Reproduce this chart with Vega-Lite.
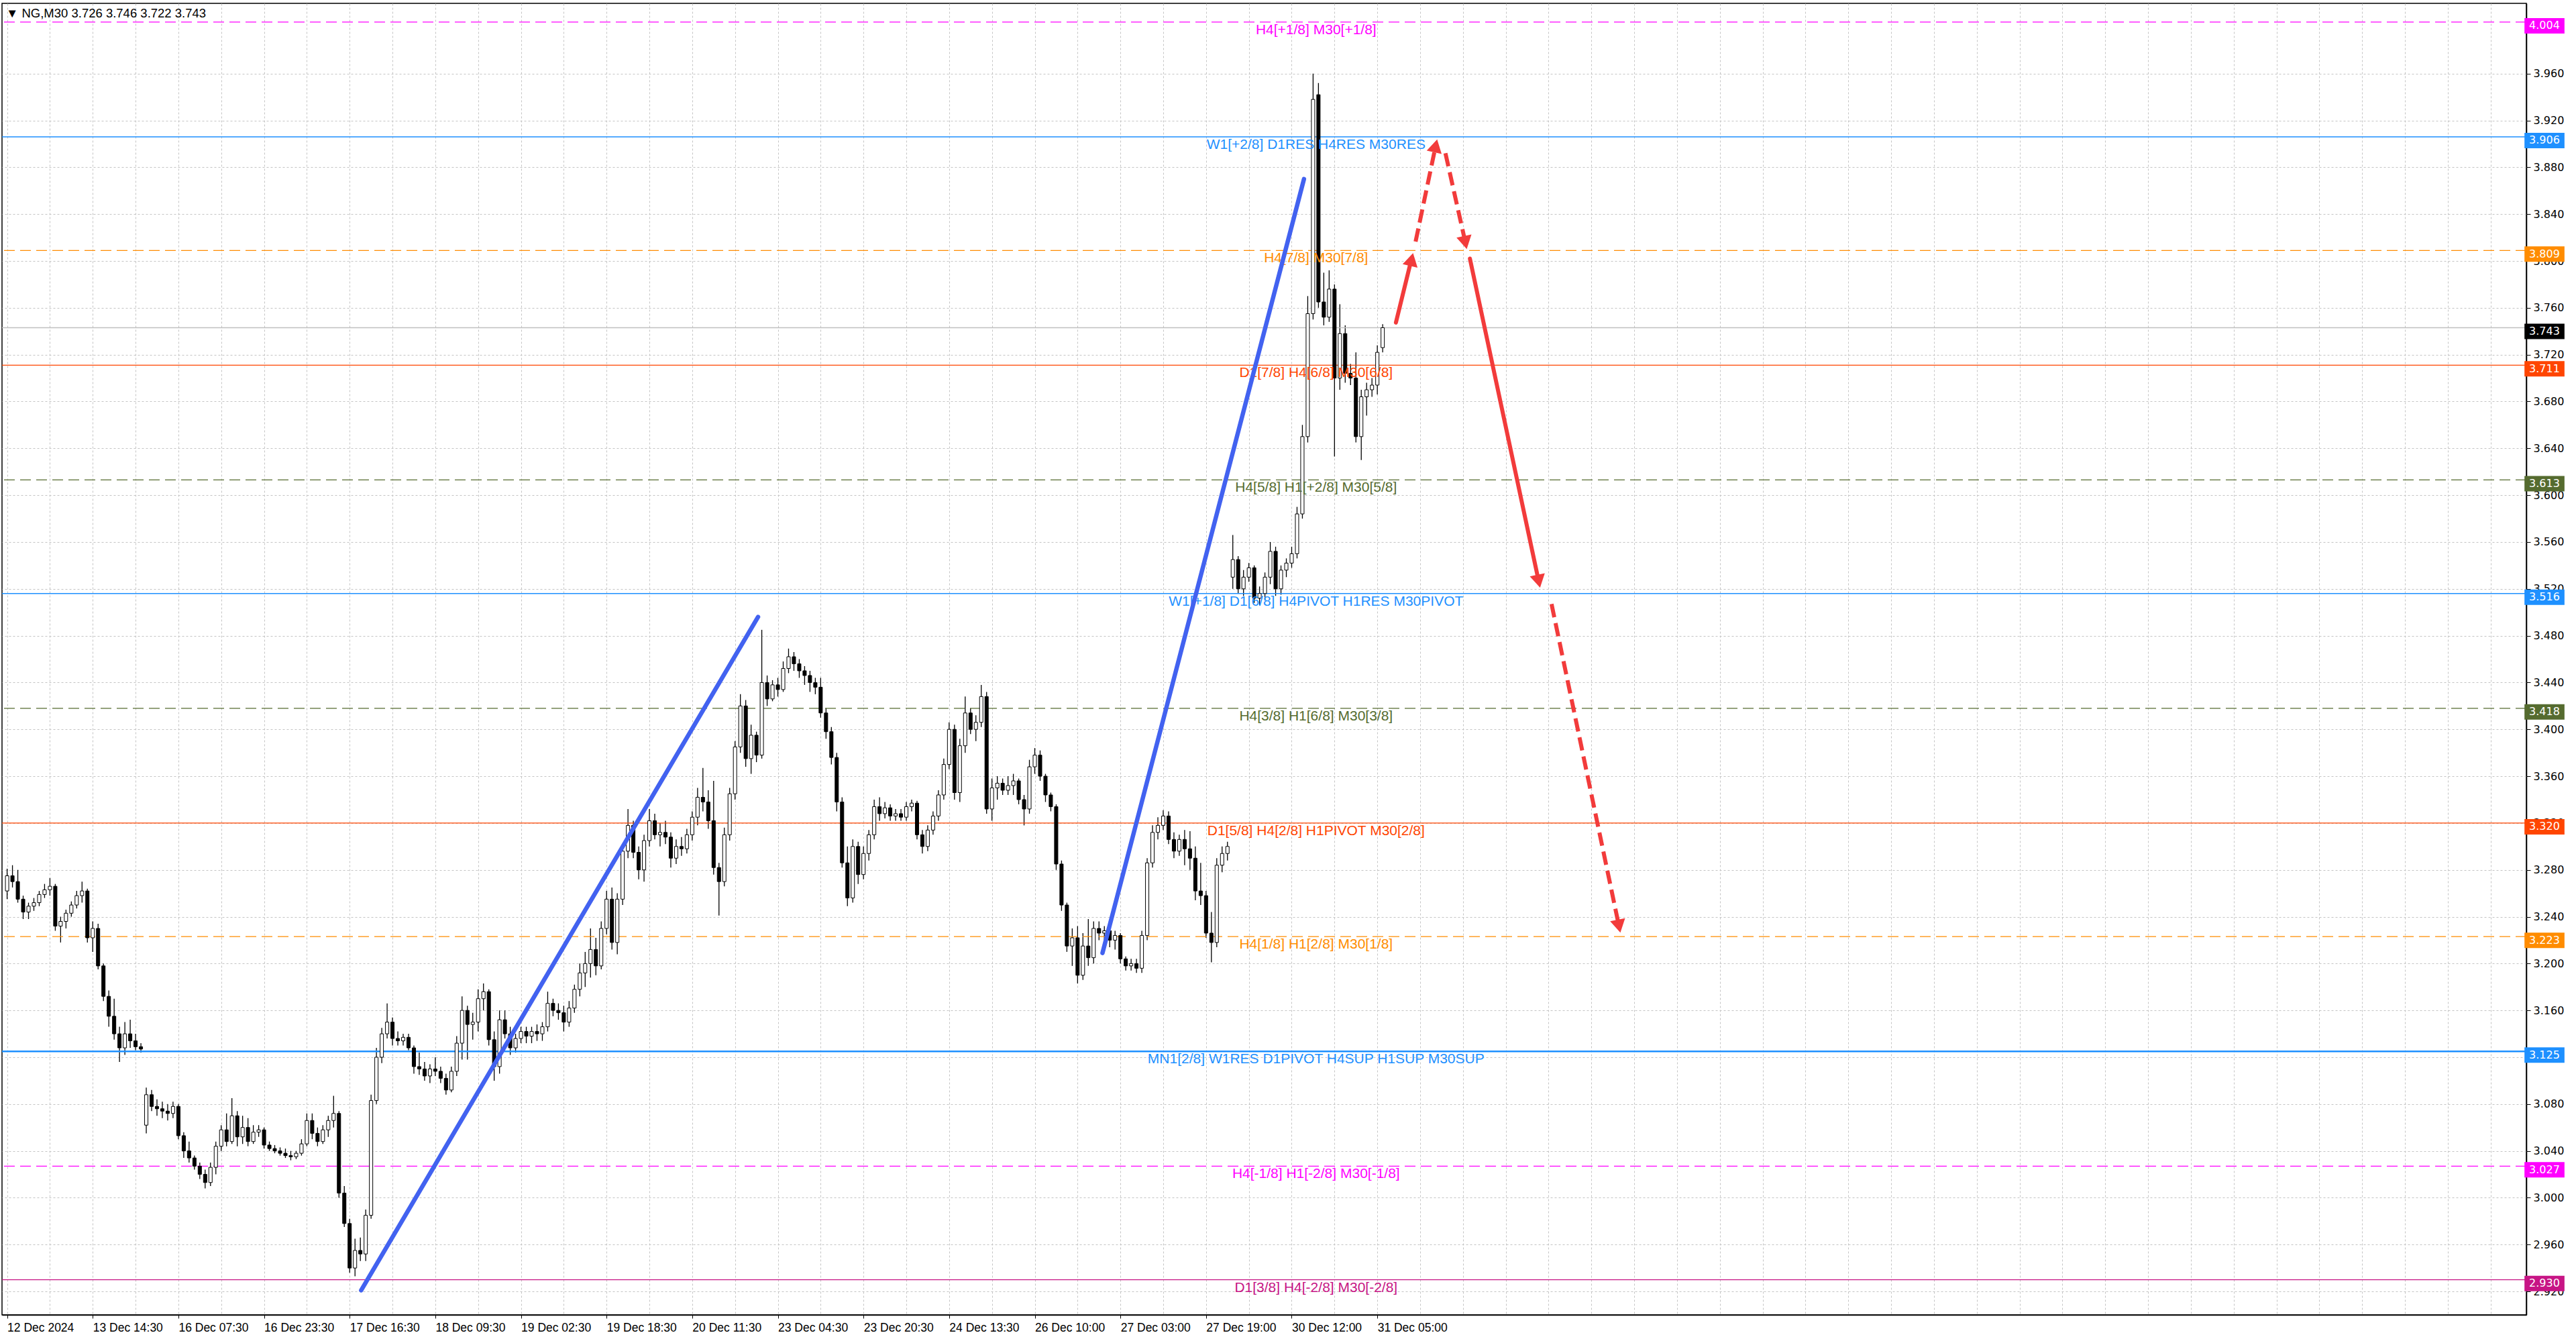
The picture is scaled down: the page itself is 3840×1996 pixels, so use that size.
{
"$schema": "https://vega.github.io/schema/vega-lite/v6.json",
"width": 3763, "height": 1955,
"autosize": "none",
"padding": {"left": 3, "top": 5, "right": 74, "bottom": 36},
"background": "white",
"config": {
  "view": {"stroke": "#000", "strokeWidth": 1.5},
  "axis": {"domainColor": "#000", "tickColor": "#000", "labelColor": "#000", "gridColor": "#c4c4c4", "gridDash": [3, 3], "gridWidth": 1, "title": null}
},
"title": {"text": "▼  NG,M30  3.726 3.746 3.722 3.743", "anchor": "start", "frame": "group", "orient": "top", "offset": -24, "dx": 6, "font": "Liberation Sans", "fontSize": 18.5, "fontWeight": "normal", "color": "#000"},
"datasets": {
"candles": [
{"i":0,"o":3.262,"h":3.281,"l":3.255,"c":3.275},{"i":2,"o":3.275,"h":3.284,"l":3.265,"c":3.270},{"i":4,"o":3.270,"h":3.280,"l":3.252,"c":3.255},{"i":6,"o":3.255,"h":3.258,"l":3.238,"c":3.244},
{"i":8,"o":3.244,"h":3.252,"l":3.238,"c":3.249},{"i":10,"o":3.249,"h":3.256,"l":3.245,"c":3.252},{"i":12,"o":3.252,"h":3.262,"l":3.249,"c":3.259},{"i":14,"o":3.259,"h":3.268,"l":3.256,"c":3.263},
{"i":16,"o":3.263,"h":3.273,"l":3.258,"c":3.266},{"i":18,"o":3.266,"h":3.268,"l":3.228,"c":3.232},{"i":20,"o":3.232,"h":3.240,"l":3.218,"c":3.236},{"i":22,"o":3.236,"h":3.246,"l":3.230,"c":3.243},
{"i":24,"o":3.243,"h":3.253,"l":3.240,"c":3.250},{"i":26,"o":3.250,"h":3.262,"l":3.247,"c":3.258},{"i":28,"o":3.258,"h":3.270,"l":3.252,"c":3.262},{"i":30,"o":3.262,"h":3.264,"l":3.218,"c":3.222},
{"i":32,"o":3.222,"h":3.236,"l":3.210,"c":3.230},{"i":34,"o":3.230,"h":3.234,"l":3.195,"c":3.198},{"i":36,"o":3.198,"h":3.200,"l":3.168,"c":3.172},{"i":38,"o":3.172,"h":3.177,"l":3.146,"c":3.155},
{"i":40,"o":3.155,"h":3.170,"l":3.135,"c":3.140},{"i":42,"o":3.140,"h":3.146,"l":3.116,"c":3.128},{"i":44,"o":3.128,"h":3.150,"l":3.122,"c":3.140},{"i":46,"o":3.140,"h":3.152,"l":3.128,"c":3.134},
{"i":48,"o":3.134,"h":3.140,"l":3.126,"c":3.129},{"i":50,"o":3.129,"h":3.132,"l":3.124,"c":3.127},{"i":52,"o":3.062,"h":3.094,"l":3.055,"c":3.088},{"i":54,"o":3.088,"h":3.092,"l":3.074,"c":3.078},
{"i":56,"o":3.078,"h":3.084,"l":3.070,"c":3.076},{"i":58,"o":3.076,"h":3.082,"l":3.068,"c":3.074},{"i":60,"o":3.074,"h":3.080,"l":3.066,"c":3.072},{"i":62,"o":3.072,"h":3.082,"l":3.068,"c":3.078},
{"i":64,"o":3.078,"h":3.080,"l":3.050,"c":3.053},{"i":66,"o":3.053,"h":3.056,"l":3.034,"c":3.040},{"i":68,"o":3.040,"h":3.048,"l":3.030,"c":3.034},{"i":70,"o":3.034,"h":3.036,"l":3.024,"c":3.027},
{"i":72,"o":3.027,"h":3.030,"l":3.016,"c":3.020},{"i":74,"o":3.020,"h":3.024,"l":3.008,"c":3.013},{"i":76,"o":3.013,"h":3.030,"l":3.010,"c":3.026},{"i":78,"o":3.026,"h":3.048,"l":3.020,"c":3.044},
{"i":80,"o":3.044,"h":3.062,"l":3.040,"c":3.058},{"i":82,"o":3.058,"h":3.072,"l":3.044,"c":3.048},{"i":84,"o":3.048,"h":3.085,"l":3.046,"c":3.070},{"i":86,"o":3.070,"h":3.074,"l":3.044,"c":3.052},
{"i":88,"o":3.052,"h":3.070,"l":3.046,"c":3.060},{"i":90,"o":3.060,"h":3.068,"l":3.044,"c":3.048},{"i":92,"o":3.048,"h":3.062,"l":3.046,"c":3.056},{"i":94,"o":3.056,"h":3.062,"l":3.052,"c":3.058},
{"i":96,"o":3.058,"h":3.060,"l":3.042,"c":3.045},{"i":98,"o":3.045,"h":3.048,"l":3.040,"c":3.042},{"i":100,"o":3.042,"h":3.045,"l":3.038,"c":3.040},{"i":102,"o":3.040,"h":3.043,"l":3.036,"c":3.038},
{"i":104,"o":3.038,"h":3.042,"l":3.034,"c":3.036},{"i":106,"o":3.036,"h":3.040,"l":3.032,"c":3.035},{"i":108,"o":3.035,"h":3.040,"l":3.033,"c":3.038},{"i":110,"o":3.038,"h":3.050,"l":3.036,"c":3.046},
{"i":112,"o":3.046,"h":3.072,"l":3.044,"c":3.066},{"i":114,"o":3.066,"h":3.072,"l":3.050,"c":3.055},{"i":116,"o":3.055,"h":3.060,"l":3.044,"c":3.048},{"i":118,"o":3.048,"h":3.062,"l":3.046,"c":3.058},
{"i":120,"o":3.058,"h":3.070,"l":3.052,"c":3.066},{"i":122,"o":3.066,"h":3.087,"l":3.060,"c":3.072},{"i":124,"o":3.072,"h":3.074,"l":3.000,"c":3.004},{"i":126,"o":3.004,"h":3.010,"l":2.975,"c":2.978},
{"i":128,"o":2.978,"h":2.982,"l":2.936,"c":2.940},{"i":130,"o":2.940,"h":2.965,"l":2.933,"c":2.955},{"i":132,"o":2.955,"h":2.966,"l":2.946,"c":2.952},{"i":134,"o":2.952,"h":2.990,"l":2.946,"c":2.985},
{"i":136,"o":2.985,"h":3.088,"l":2.982,"c":3.083},{"i":138,"o":3.083,"h":3.128,"l":3.080,"c":3.120},{"i":140,"o":3.120,"h":3.145,"l":3.115,"c":3.140},{"i":142,"o":3.140,"h":3.166,"l":3.136,"c":3.150},
{"i":144,"o":3.150,"h":3.154,"l":3.130,"c":3.136},{"i":146,"o":3.136,"h":3.142,"l":3.130,"c":3.134},{"i":148,"o":3.134,"h":3.140,"l":3.130,"c":3.137},{"i":150,"o":3.137,"h":3.140,"l":3.126,"c":3.128},
{"i":152,"o":3.128,"h":3.130,"l":3.106,"c":3.112},{"i":154,"o":3.112,"h":3.124,"l":3.105,"c":3.110},{"i":156,"o":3.110,"h":3.116,"l":3.100,"c":3.104},{"i":158,"o":3.104,"h":3.114,"l":3.098,"c":3.110},
{"i":160,"o":3.110,"h":3.120,"l":3.104,"c":3.108},{"i":162,"o":3.108,"h":3.112,"l":3.098,"c":3.102},{"i":164,"o":3.102,"h":3.106,"l":3.088,"c":3.092},{"i":166,"o":3.092,"h":3.112,"l":3.090,"c":3.108},
{"i":168,"o":3.108,"h":3.138,"l":3.104,"c":3.132},{"i":170,"o":3.132,"h":3.172,"l":3.118,"c":3.160},{"i":172,"o":3.160,"h":3.164,"l":3.118,"c":3.148},{"i":174,"o":3.148,"h":3.158,"l":3.135,"c":3.150},
{"i":176,"o":3.150,"h":3.178,"l":3.142,"c":3.170},{"i":178,"o":3.170,"h":3.183,"l":3.160,"c":3.176},{"i":180,"o":3.176,"h":3.178,"l":3.130,"c":3.135},{"i":182,"o":3.135,"h":3.142,"l":3.100,"c":3.112},
{"i":184,"o":3.112,"h":3.160,"l":3.106,"c":3.152},{"i":186,"o":3.152,"h":3.160,"l":3.136,"c":3.140},{"i":188,"o":3.140,"h":3.146,"l":3.122,"c":3.128},{"i":190,"o":3.128,"h":3.140,"l":3.124,"c":3.136},
{"i":192,"o":3.136,"h":3.146,"l":3.132,"c":3.142},{"i":194,"o":3.142,"h":3.146,"l":3.132,"c":3.138},{"i":196,"o":3.138,"h":3.146,"l":3.132,"c":3.142},{"i":198,"o":3.142,"h":3.148,"l":3.134,"c":3.140},
{"i":200,"o":3.140,"h":3.150,"l":3.134,"c":3.146},{"i":202,"o":3.146,"h":3.176,"l":3.142,"c":3.166},{"i":204,"o":3.166,"h":3.170,"l":3.155,"c":3.160},{"i":206,"o":3.160,"h":3.166,"l":3.152,"c":3.158},
{"i":208,"o":3.158,"h":3.164,"l":3.142,"c":3.150},{"i":210,"o":3.150,"h":3.168,"l":3.146,"c":3.162},{"i":212,"o":3.162,"h":3.182,"l":3.158,"c":3.178},{"i":214,"o":3.178,"h":3.200,"l":3.172,"c":3.192},
{"i":216,"o":3.192,"h":3.210,"l":3.180,"c":3.200},{"i":218,"o":3.200,"h":3.230,"l":3.188,"c":3.212},{"i":220,"o":3.212,"h":3.222,"l":3.190,"c":3.198},{"i":222,"o":3.198,"h":3.236,"l":3.195,"c":3.230},
{"i":224,"o":3.230,"h":3.262,"l":3.225,"c":3.255},{"i":226,"o":3.255,"h":3.265,"l":3.212,"c":3.218},{"i":228,"o":3.218,"h":3.260,"l":3.208,"c":3.255},{"i":230,"o":3.255,"h":3.300,"l":3.250,"c":3.296},
{"i":232,"o":3.296,"h":3.332,"l":3.290,"c":3.318},{"i":234,"o":3.318,"h":3.322,"l":3.290,"c":3.295},{"i":236,"o":3.295,"h":3.300,"l":3.272,"c":3.280},{"i":238,"o":3.280,"h":3.310,"l":3.270,"c":3.305},
{"i":240,"o":3.305,"h":3.332,"l":3.300,"c":3.322},{"i":242,"o":3.322,"h":3.328,"l":3.306,"c":3.310},{"i":244,"o":3.310,"h":3.320,"l":3.300,"c":3.312},{"i":246,"o":3.312,"h":3.322,"l":3.302,"c":3.308},
{"i":248,"o":3.308,"h":3.312,"l":3.282,"c":3.290},{"i":250,"o":3.290,"h":3.306,"l":3.285,"c":3.300},{"i":252,"o":3.300,"h":3.308,"l":3.292,"c":3.298},{"i":254,"o":3.298,"h":3.315,"l":3.294,"c":3.310},
{"i":256,"o":3.310,"h":3.330,"l":3.305,"c":3.325},{"i":258,"o":3.325,"h":3.350,"l":3.318,"c":3.342},{"i":260,"o":3.342,"h":3.367,"l":3.330,"c":3.338},{"i":262,"o":3.338,"h":3.348,"l":3.315,"c":3.322},
{"i":264,"o":3.322,"h":3.356,"l":3.276,"c":3.282},{"i":266,"o":3.282,"h":3.286,"l":3.241,"c":3.270},{"i":268,"o":3.270,"h":3.316,"l":3.266,"c":3.310},{"i":270,"o":3.310,"h":3.350,"l":3.305,"c":3.345},
{"i":272,"o":3.345,"h":3.390,"l":3.340,"c":3.385},{"i":274,"o":3.385,"h":3.430,"l":3.380,"c":3.420},{"i":276,"o":3.420,"h":3.425,"l":3.368,"c":3.375},{"i":278,"o":3.375,"h":3.404,"l":3.362,"c":3.395},
{"i":280,"o":3.395,"h":3.398,"l":3.372,"c":3.378},{"i":282,"o":3.378,"h":3.485,"l":3.375,"c":3.440},{"i":284,"o":3.440,"h":3.446,"l":3.420,"c":3.426},{"i":286,"o":3.426,"h":3.442,"l":3.424,"c":3.438},
{"i":288,"o":3.438,"h":3.444,"l":3.428,"c":3.434},{"i":290,"o":3.434,"h":3.458,"l":3.432,"c":3.452},{"i":292,"o":3.452,"h":3.469,"l":3.448,"c":3.462},{"i":294,"o":3.462,"h":3.466,"l":3.450,"c":3.456},
{"i":296,"o":3.456,"h":3.460,"l":3.444,"c":3.450},{"i":298,"o":3.450,"h":3.454,"l":3.438,"c":3.446},{"i":300,"o":3.446,"h":3.450,"l":3.432,"c":3.440},{"i":302,"o":3.440,"h":3.444,"l":3.430,"c":3.436},
{"i":304,"o":3.436,"h":3.444,"l":3.410,"c":3.414},{"i":306,"o":3.414,"h":3.418,"l":3.392,"c":3.398},{"i":308,"o":3.398,"h":3.402,"l":3.370,"c":3.376},{"i":310,"o":3.376,"h":3.380,"l":3.330,"c":3.338},
{"i":312,"o":3.338,"h":3.342,"l":3.282,"c":3.286},{"i":314,"o":3.286,"h":3.300,"l":3.249,"c":3.256},{"i":316,"o":3.256,"h":3.306,"l":3.252,"c":3.300},{"i":318,"o":3.300,"h":3.304,"l":3.268,"c":3.276},
{"i":320,"o":3.276,"h":3.300,"l":3.272,"c":3.294},{"i":322,"o":3.294,"h":3.314,"l":3.288,"c":3.310},{"i":324,"o":3.310,"h":3.340,"l":3.306,"c":3.334},{"i":326,"o":3.334,"h":3.342,"l":3.322,"c":3.328},
{"i":328,"o":3.328,"h":3.338,"l":3.324,"c":3.333},{"i":330,"o":3.333,"h":3.336,"l":3.322,"c":3.326},{"i":332,"o":3.326,"h":3.332,"l":3.322,"c":3.328},{"i":334,"o":3.328,"h":3.332,"l":3.322,"c":3.325},
{"i":336,"o":3.325,"h":3.338,"l":3.322,"c":3.334},{"i":338,"o":3.334,"h":3.340,"l":3.330,"c":3.337},{"i":340,"o":3.337,"h":3.339,"l":3.306,"c":3.310},{"i":342,"o":3.310,"h":3.314,"l":3.294,"c":3.300},
{"i":344,"o":3.300,"h":3.318,"l":3.296,"c":3.314},{"i":346,"o":3.314,"h":3.330,"l":3.310,"c":3.326},{"i":348,"o":3.326,"h":3.348,"l":3.322,"c":3.344},{"i":350,"o":3.344,"h":3.375,"l":3.340,"c":3.370},
{"i":352,"o":3.370,"h":3.406,"l":3.366,"c":3.400},{"i":354,"o":3.400,"h":3.404,"l":3.340,"c":3.346},{"i":356,"o":3.346,"h":3.392,"l":3.338,"c":3.386},{"i":358,"o":3.386,"h":3.428,"l":3.380,"c":3.414},
{"i":360,"o":3.414,"h":3.418,"l":3.396,"c":3.400},{"i":362,"o":3.400,"h":3.412,"l":3.390,"c":3.406},{"i":364,"o":3.406,"h":3.438,"l":3.402,"c":3.428},{"i":366,"o":3.428,"h":3.432,"l":3.328,"c":3.332},
{"i":368,"o":3.332,"h":3.358,"l":3.322,"c":3.350},{"i":370,"o":3.350,"h":3.360,"l":3.340,"c":3.354},{"i":372,"o":3.354,"h":3.358,"l":3.344,"c":3.348},{"i":374,"o":3.348,"h":3.360,"l":3.344,"c":3.352},
{"i":376,"o":3.352,"h":3.362,"l":3.344,"c":3.356},{"i":378,"o":3.356,"h":3.358,"l":3.336,"c":3.340},{"i":380,"o":3.340,"h":3.344,"l":3.318,"c":3.332},{"i":382,"o":3.332,"h":3.374,"l":3.328,"c":3.368},
{"i":384,"o":3.368,"h":3.384,"l":3.362,"c":3.378},{"i":386,"o":3.378,"h":3.382,"l":3.356,"c":3.360},{"i":388,"o":3.360,"h":3.362,"l":3.338,"c":3.344},{"i":390,"o":3.344,"h":3.346,"l":3.330,"c":3.334},
{"i":392,"o":3.334,"h":3.336,"l":3.280,"c":3.285},{"i":394,"o":3.285,"h":3.288,"l":3.245,"c":3.250},{"i":396,"o":3.250,"h":3.252,"l":3.210,"c":3.215},{"i":398,"o":3.215,"h":3.230,"l":3.198,"c":3.222},
{"i":400,"o":3.222,"h":3.232,"l":3.183,"c":3.190},{"i":402,"o":3.190,"h":3.226,"l":3.186,"c":3.215},{"i":404,"o":3.215,"h":3.238,"l":3.198,"c":3.205},{"i":406,"o":3.205,"h":3.236,"l":3.200,"c":3.230},
{"i":408,"o":3.230,"h":3.236,"l":3.220,"c":3.226},{"i":410,"o":3.226,"h":3.232,"l":3.220,"c":3.228},{"i":412,"o":3.228,"h":3.230,"l":3.214,"c":3.220},{"i":414,"o":3.220,"h":3.228,"l":3.212,"c":3.224},
{"i":416,"o":3.224,"h":3.226,"l":3.200,"c":3.204},{"i":418,"o":3.204,"h":3.206,"l":3.194,"c":3.198},{"i":420,"o":3.198,"h":3.204,"l":3.194,"c":3.200},{"i":422,"o":3.200,"h":3.204,"l":3.192,"c":3.196},
{"i":424,"o":3.196,"h":3.228,"l":3.192,"c":3.224},{"i":426,"o":3.224,"h":3.290,"l":3.220,"c":3.286},{"i":428,"o":3.286,"h":3.318,"l":3.282,"c":3.312},{"i":430,"o":3.312,"h":3.325,"l":3.306,"c":3.318},
{"i":432,"o":3.318,"h":3.331,"l":3.314,"c":3.326},{"i":434,"o":3.326,"h":3.330,"l":3.302,"c":3.306},{"i":436,"o":3.306,"h":3.312,"l":3.290,"c":3.296},{"i":438,"o":3.296,"h":3.310,"l":3.292,"c":3.306},
{"i":440,"o":3.306,"h":3.314,"l":3.284,"c":3.298},{"i":442,"o":3.298,"h":3.313,"l":3.280,"c":3.290},{"i":444,"o":3.290,"h":3.300,"l":3.254,"c":3.262},{"i":446,"o":3.262,"h":3.286,"l":3.250,"c":3.258},
{"i":448,"o":3.258,"h":3.262,"l":3.222,"c":3.226},{"i":450,"o":3.226,"h":3.244,"l":3.201,"c":3.218},{"i":452,"o":3.218,"h":3.290,"l":3.214,"c":3.284},{"i":454,"o":3.284,"h":3.300,"l":3.278,"c":3.294},
{"i":456,"o":3.294,"h":3.304,"l":3.288,"c":3.300},{"i":458,"o":3.530,"h":3.566,"l":3.520,"c":3.545},{"i":460,"o":3.545,"h":3.548,"l":3.516,"c":3.520},{"i":462,"o":3.520,"h":3.536,"l":3.514,"c":3.530},
{"i":464,"o":3.530,"h":3.542,"l":3.526,"c":3.538},{"i":466,"o":3.538,"h":3.540,"l":3.508,"c":3.512},{"i":468,"o":3.512,"h":3.522,"l":3.506,"c":3.516},{"i":470,"o":3.516,"h":3.534,"l":3.510,"c":3.530},
{"i":472,"o":3.530,"h":3.560,"l":3.524,"c":3.552},{"i":474,"o":3.552,"h":3.556,"l":3.514,"c":3.520},{"i":476,"o":3.520,"h":3.540,"l":3.515,"c":3.536},{"i":478,"o":3.536,"h":3.546,"l":3.530,"c":3.542},
{"i":480,"o":3.542,"h":3.556,"l":3.538,"c":3.550},{"i":482,"o":3.550,"h":3.590,"l":3.546,"c":3.584},{"i":484,"o":3.584,"h":3.660,"l":3.580,"c":3.650},{"i":486,"o":3.650,"h":3.770,"l":3.645,"c":3.755},
{"i":488,"o":3.755,"h":3.960,"l":3.750,"c":3.938},{"i":490,"o":3.942,"h":3.952,"l":3.760,"c":3.765},{"i":492,"o":3.765,"h":3.790,"l":3.745,"c":3.752},{"i":494,"o":3.752,"h":3.792,"l":3.748,"c":3.776},
{"i":496,"o":3.776,"h":3.780,"l":3.633,"c":3.700},{"i":498,"o":3.700,"h":3.763,"l":3.690,"c":3.738},{"i":500,"o":3.738,"h":3.745,"l":3.696,"c":3.704},{"i":502,"o":3.704,"h":3.712,"l":3.694,"c":3.700},
{"i":504,"o":3.700,"h":3.722,"l":3.645,"c":3.650},{"i":506,"o":3.650,"h":3.690,"l":3.630,"c":3.684},{"i":508,"o":3.684,"h":3.696,"l":3.668,"c":3.690},{"i":510,"o":3.690,"h":3.700,"l":3.684,"c":3.694},
{"i":512,"o":3.694,"h":3.728,"l":3.686,"c":3.722},{"i":514,"o":3.726,"h":3.746,"l":3.722,"c":3.743}
],
"levels": [
{"p":4.004,"label":"H4[+1/8] M30[+1/8]","line":"dashed"},
{"p":3.906,"label":"W1[+2/8] D1RES H4RES M30RES","line":"solid"},
{"p":3.809,"label":"H4[7/8] M30[7/8]","line":"dashed"},
{"p":3.711,"label":"D1[7/8] H4[6/8] M30[6/8]","line":"solid"},
{"p":3.613,"label":"H4[5/8] H1[+2/8] M30[5/8]","line":"dashed"},
{"p":3.516,"label":"W1[+1/8] D1[6/8] H4PIVOT H1RES M30PIVOT","line":"solid"},
{"p":3.418,"label":"H4[3/8] H1[6/8] M30[3/8]","line":"dashed"},
{"p":3.320,"label":"D1[5/8] H4[2/8] H1PIVOT M30[2/8]","line":"solid"},
{"p":3.223,"label":"H4[1/8] H1[2/8] M30[1/8]","line":"dashed"},
{"p":3.125,"label":"MN1[2/8] W1RES D1PIVOT H4SUP H1SUP M30SUP","line":"solid"},
{"p":3.027,"label":"H4[-1/8] H1[-2/8] M30[-1/8]","line":"dashed"},
{"p":2.930,"label":"D1[3/8] H4[-2/8] M30[-2/8]","line":"solid"}
],
"last": [{"p":3.743}],
"trend": [
{"id":1,"i":132.3,"p":2.921},{"id":1,"i":280.6,"p":3.496},
{"id":2,"i":409.3,"p":3.209},{"id":2,"i":484.6,"p":3.870}
],
"arrowSolid": [
{"id":1,"i":518.95,"p":3.7474},{"id":1,"i":524.5,"p":3.7991},
{"id":4,"i":546.6,"p":3.8020},{"id":4,"i":572.1,"p":3.5287}
],
"arrowDashed": [
{"id":2,"i":526.3,"p":3.8165},{"id":2,"i":533.6,"p":3.8961},
{"id":3,"i":537.45,"p":3.8920},{"id":3,"i":544.7,"p":3.8179},
{"id":5,"i":577.1,"p":3.5070},{"id":5,"i":602.1,"p":3.2342}
],
"headsUp": [{"i":524.8,"p":3.8013},{"i":533.8,"p":3.8983}],
"headsDown": [{"i":544.9,"p":3.8157},{"i":572.3,"p":3.5265},{"i":602.3,"p":3.2319}]
},
"layer": [
{
  "data": {"name": "candles"},
  "mark": {"type": "rule", "color": "#000", "strokeWidth": 1.3},
  "encoding": {
    "x": {"field": "i", "type": "quantitative",
      "scale": {"domain": [-0.65, 940.1], "nice": false, "zero": false},
      "axis": {"orient": "bottom",
        "values": [0,16,32,48,64,80,96,112,128,144,160,176,192,208,224,240,256,272,288,304,320,336,352,368,384,400,416,432,448,464,480,496,512,528,544,560,576,592,608,624,640,656,672,688,704,720,736,752,768,784,800,816,832,848,864,880,896,912,928],
        "labelExpr": "(datum.value % 32 == 0 && datum.value <= 512) ? ['12 Dec 2024','13 Dec 14:30','16 Dec 07:30','16 Dec 23:30','17 Dec 16:30','18 Dec 09:30','19 Dec 02:30','19 Dec 18:30','20 Dec 11:30','23 Dec 04:30','23 Dec 20:30','24 Dec 13:30','26 Dec 10:00','27 Dec 03:00','27 Dec 19:00','30 Dec 12:00','31 Dec 05:00'][datum.value / 32] : ''",
        "grid": true, "tickSize": 5,
        "tickOpacity": {"condition": {"test": "datum.value % 32 == 0 && datum.value <= 512", "value": 1}, "value": 0},
        "labelAlign": "left", "labelBaseline": "top", "labelPadding": 5,
        "labelFont": "Liberation Sans", "labelFontSize": 17.5,
        "labelOverlap": false, "labelFlush": false, "domainWidth": 1.5}},
    "y": {"field": "l", "type": "quantitative",
      "scale": {"domain": [2.9, 4.02], "nice": false, "zero": false},
      "axis": {"orient": "right",
        "values": [2.92,2.96,3.0,3.04,3.08,3.12,3.16,3.2,3.24,3.28,3.32,3.36,3.4,3.44,3.48,3.52,3.56,3.6,3.64,3.68,3.72,3.76,3.8,3.84,3.88,3.92,3.96],
        "format": ".3f", "grid": true, "tickSize": 6, "labelPadding": 4,
        "labelFont": "DejaVu Sans", "labelFontSize": 16, "labelOverlap": false, "labelFlush": false, "domainWidth": 1.5}},
    "y2": {"field": "h"}
  }
},
{
  "data": {"name": "levels"},
  "mark": {"type": "rule"},
  "encoding": {
    "y": {"field": "p", "type": "quantitative"},
    "color": {"field": "label", "type": "nominal", "legend": null,
      "scale": {"domain": ["H4[+1/8] M30[+1/8]","W1[+2/8] D1RES H4RES M30RES","H4[7/8] M30[7/8]","D1[7/8] H4[6/8] M30[6/8]","H4[5/8] H1[+2/8] M30[5/8]","W1[+1/8] D1[6/8] H4PIVOT H1RES M30PIVOT","H4[3/8] H1[6/8] M30[3/8]","D1[5/8] H4[2/8] H1PIVOT M30[2/8]","H4[1/8] H1[2/8] M30[1/8]","MN1[2/8] W1RES D1PIVOT H4SUP H1SUP M30SUP","H4[-1/8] H1[-2/8] M30[-1/8]","D1[3/8] H4[-2/8] M30[-2/8]"],
        "range": ["#ff00ff","#1e90ff","#ff8c00","#ff4500","#556b2f","#1e90ff","#556b2f","#ff4500","#ff8c00","#1e90ff","#ff00ff","#c71585"]}},
    "strokeDash": {"field": "line", "type": "nominal", "legend": null,
      "scale": {"domain": ["solid","dashed"], "range": [[1,0],[16,8]]}},
    "strokeWidth": {"condition": {"test": "datum.p == 3.125", "value": 2.5}, "value": 1.3}
  }
},
{
  "data": {"name": "last"},
  "mark": {"type": "rule", "color": "#c0c0c0", "strokeWidth": 1.3},
  "encoding": {"y": {"field": "p", "type": "quantitative"}}
},
{
  "data": {"name": "candles"},
  "mark": {"type": "bar", "width": 5, "stroke": "#000", "strokeWidth": 1},
  "encoding": {
    "x": {"field": "i", "type": "quantitative"},
    "y": {"field": "o", "type": "quantitative"},
    "y2": {"field": "c"},
    "fill": {"condition": {"test": "datum.c >= datum.o", "value": "#ffffff"}, "value": "#000000"}
  }
},
{
  "data": {"name": "levels"},
  "mark": {"type": "text", "align": "center", "baseline": "top", "dy": 1, "font": "Liberation Sans", "fontSize": 21},
  "encoding": {
    "x": {"datum": 489.1},
    "y": {"field": "p", "type": "quantitative"},
    "text": {"field": "label"},
    "color": {"field": "label", "type": "nominal", "legend": null}
  }
},
{
  "data": {"name": "trend"},
  "mark": {"type": "line", "color": "#4262f0", "strokeWidth": 6.5, "strokeCap": "round"},
  "encoding": {
    "x": {"field": "i", "type": "quantitative"},
    "y": {"field": "p", "type": "quantitative"},
    "detail": {"field": "id"}
  }
},
{
  "data": {"name": "arrowSolid"},
  "mark": {"type": "line", "color": "#f23b3b", "strokeWidth": 6, "strokeCap": "round"},
  "encoding": {
    "x": {"field": "i", "type": "quantitative"},
    "y": {"field": "p", "type": "quantitative"},
    "detail": {"field": "id"}
  }
},
{
  "data": {"name": "arrowDashed"},
  "mark": {"type": "line", "color": "#f23b3b", "strokeWidth": 6, "strokeDash": [20, 9]},
  "encoding": {
    "x": {"field": "i", "type": "quantitative"},
    "y": {"field": "p", "type": "quantitative"},
    "detail": {"field": "id"}
  }
},
{
  "data": {"name": "headsUp"},
  "mark": {"type": "point", "shape": "triangle-up", "filled": true, "color": "#f23b3b", "opacity": 1, "size": 520, "angle": 13},
  "encoding": {
    "x": {"field": "i", "type": "quantitative"},
    "y": {"field": "p", "type": "quantitative"}
  }
},
{
  "data": {"name": "headsDown"},
  "mark": {"type": "point", "shape": "triangle-up", "filled": true, "color": "#f23b3b", "opacity": 1, "size": 520, "angle": 168},
  "encoding": {
    "x": {"field": "i", "type": "quantitative"},
    "y": {"field": "p", "type": "quantitative"}
  }
},
{
  "data": {"name": "levels"},
  "mark": {"type": "rect", "yOffset": -6, "y2Offset": 17, "clip": false},
  "encoding": {
    "x": {"datum": 940.65},
    "x2": {"datum": 955.6},
    "y": {"field": "p", "type": "quantitative"},
    "y2": {"field": "p"},
    "color": {"field": "label", "type": "nominal", "legend": null}
  }
},
{
  "data": {"name": "last"},
  "mark": {"type": "rect", "yOffset": -6, "y2Offset": 17, "clip": false, "color": "#000"},
  "encoding": {
    "x": {"datum": 940.65},
    "x2": {"datum": 955.6},
    "y": {"field": "p", "type": "quantitative"},
    "y2": {"field": "p"}
  }
},
{
  "data": {"name": "levels"},
  "mark": {"type": "text", "align": "center", "baseline": "middle", "dy": 5.5, "font": "DejaVu Sans", "fontSize": 16, "color": "#ffffff", "clip": false},
  "encoding": {
    "x": {"datum": 948.1},
    "y": {"field": "p", "type": "quantitative"},
    "text": {"field": "p", "type": "quantitative", "format": ".3f"}
  }
},
{
  "data": {"name": "last"},
  "mark": {"type": "text", "align": "center", "baseline": "middle", "dy": 5.5, "font": "DejaVu Sans", "fontSize": 16, "color": "#ffffff", "clip": false},
  "encoding": {
    "x": {"datum": 948.1},
    "y": {"field": "p", "type": "quantitative"},
    "text": {"field": "p", "type": "quantitative", "format": ".3f"}
  }
}
]
}
